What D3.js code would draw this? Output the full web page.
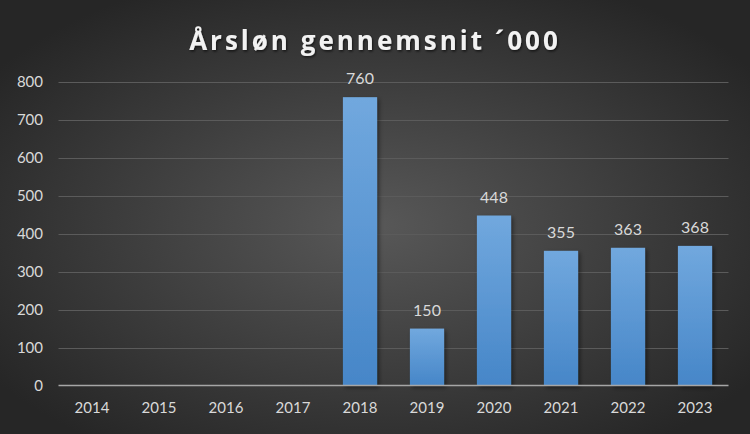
<!DOCTYPE html>
<html><head><meta charset="utf-8">
<script src="https://cdn.jsdelivr.net/npm/d3@7"></script>
<style>html,body{margin:0;padding:0;background:#333;}svg{display:block;}</style>
</head><body>
<svg id="chart" width="750" height="434"></svg>
<script>
const years = ["2014","2015","2016","2017","2018","2019","2020","2021","2022","2023"];
const values = [null,null,null,null,760,150,448,355,363,368];
const yTicks = [0,100,200,300,400,500,600,700,800];
const title = "Årsløn gennemsnit ´000";

const W = 750, H = 434;
const svg = d3.select("#chart");
const defs = svg.append("defs");
const rg = defs.append("radialGradient").attr("id","bg").attr("cx","50%").attr("cy","52%").attr("r","62%");
rg.append("stop").attr("offset","0%").attr("stop-color","#585858");
rg.append("stop").attr("offset","100%").attr("stop-color","#262626");
const lg = defs.append("linearGradient").attr("id","bar").attr("x1",0).attr("y1",0).attr("x2",0).attr("y2",1);
lg.append("stop").attr("offset","0%").attr("stop-color","#71a8de");
lg.append("stop").attr("offset","100%").attr("stop-color","#4686c8");
const f = defs.append("filter").attr("id","sh").attr("x","-20%").attr("y","-20%").attr("width","150%").attr("height","150%");
f.append("feDropShadow").attr("dx",2).attr("dy",2).attr("stdDeviation",2).attr("flood-color","#000").attr("flood-opacity",0.45);
const ft = defs.append("filter").attr("id","tsh").attr("x","-10%").attr("y","-30%").attr("width","120%").attr("height","160%");
ft.append("feDropShadow").attr("dx",1).attr("dy",1.5).attr("stdDeviation",1.2).attr("flood-color","#000").attr("flood-opacity",0.6);

svg.append("rect").attr("width",W).attr("height",H).attr("fill","url(#bg)");

const x = d3.scaleBand().domain(years).range([58.5,728.5]).paddingInner(0.49).paddingOuter(0.245);
const y = d3.scaleLinear().domain([0,800]).range([385.5,82]);

const font = "Lato, 'Open Sans', sans-serif";

// gridlines
svg.append("g").selectAll("line").data(yTicks.filter(d=>d>0)).join("line")
  .attr("x1",58.5).attr("x2",728.5)
  .attr("y1",d=>Math.round(y(d))+0.5).attr("y2",d=>Math.round(y(d))+0.5)
  .attr("stroke","#5b5b5b").attr("stroke-width",1);

// y axis labels
const yAxis = d3.axisLeft(y).tickValues(yTicks).tickSize(0).tickPadding(0);
const gy = svg.append("g").attr("transform","translate(43,0)").call(yAxis);
gy.select(".domain").remove();
gy.selectAll("text").attr("fill","#d9d9d9").style("font-family",font).style("font-size","15px");

// bars
const data = years.map((yr,i)=>({yr, v: values[i]})).filter(d=>d.v!=null);
svg.append("g").selectAll("rect").data(data).join("rect")
  .attr("x",d=>x(d.yr)).attr("width",x.bandwidth())
  .attr("y",d=>y(d.v)).attr("height",d=>y(0)-y(d.v))
  .attr("fill","url(#bar)").attr("filter","url(#sh)");

// zero axis line
svg.append("line").attr("x1",58.5).attr("x2",728.5).attr("y1",385.5).attr("y2",385.5)
  .attr("stroke","#a6a6a6").attr("stroke-width",1.5);

// x axis labels
const xAxis = d3.axisBottom(x).tickSize(0).tickPadding(0);
const gx = svg.append("g").attr("transform","translate(0,402)").call(xAxis);
gx.select(".domain").remove();
gx.selectAll("text").attr("fill","#d9d9d9").attr("dy","0.71em").style("font-family",font).style("font-size","15px");

// data labels
svg.append("g").selectAll("text").data(data).join("text")
  .attr("x",d=>x(d.yr)+x.bandwidth()/2).attr("y",d=>y(d.v)-13)
  .attr("text-anchor","middle").attr("fill","#d9d9d9")
  .style("font-family",font).style("font-size","16px")
  .text(d=>d.v);

// title
svg.append("text").attr("x",375).attr("y",50).attr("text-anchor","middle")
  .attr("fill","#f2f2f2").attr("filter","url(#tsh)")
  .style("font-family","'Open Sans', sans-serif").style("font-weight","bold")
  .style("font-size","26px").style("letter-spacing","3px")
  .text(title);
</script>
</body></html>
